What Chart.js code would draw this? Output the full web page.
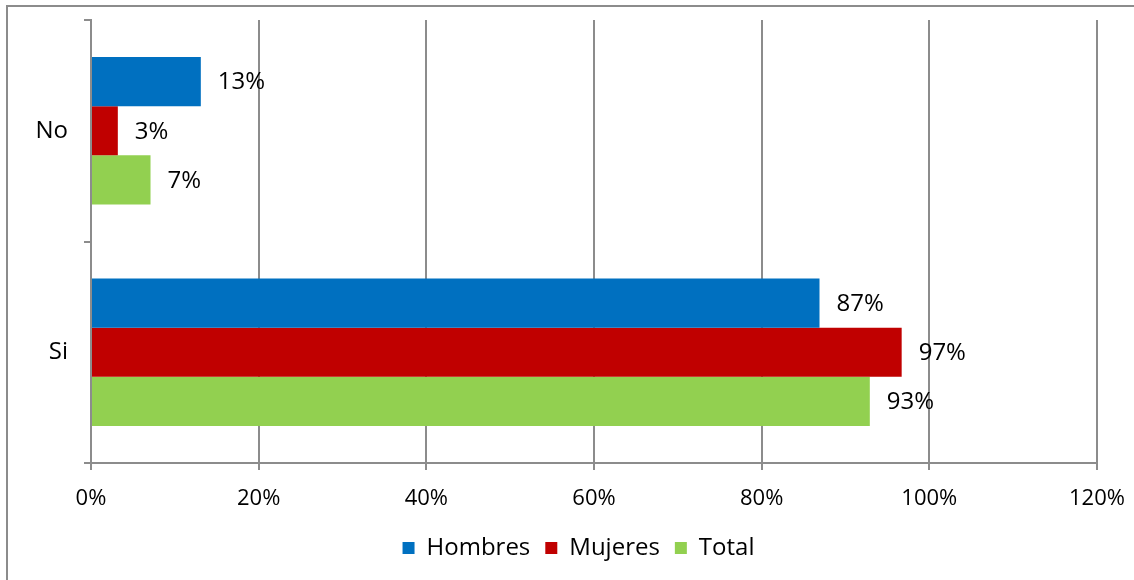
<!DOCTYPE html>
<html>
<head>
<meta charset="utf-8">
<script src="https://cdn.jsdelivr.net/npm/chart.js@4/dist/chart.umd.min.js"></script>
<style>
  html, body { margin: 0; padding: 0; background: #fff; overflow: hidden; }
  #wrap { position: relative; width: 1134px; height: 580px; }
  #frame { position: absolute; left: 6px; top: 5px; width: 1200px; height: 700px;
           border-left: 2px solid #8c8c8c; border-top: 2px solid #8c8c8c; }
  canvas { position: absolute; left: 0; top: 0; }
</style>
</head>
<body>
<div id="wrap">
  <div id="frame"></div>
  <canvas id="grafico" width="1134" height="580"></canvas>
</div>
<script>
var categorias = ["No", "Si"];
var hombres = [13.1, 86.9];
var mujeres = [3.2, 96.7];
var total = [7.1, 92.9];
var ticksX = [0, 20, 40, 60, 80, 100, 120];

var fuente = "'Open Sans', sans-serif";

// etiquetas de valor al final de cada barra
var etiquetasValor = {
    id: 'etiquetasValor',
    afterDatasetsDraw: function(chart) {
        var ctx = chart.ctx;
        ctx.save();
        ctx.font = "24px " + fuente;
        ctx.fillStyle = "#000";
        ctx.textBaseline = "middle";
        ctx.textAlign = "left";
        chart.data.datasets.forEach(function(ds, i) {
            var meta = chart.getDatasetMeta(i);
            meta.data.forEach(function(bar, j) {
                ctx.fillText(Math.round(ds.data[j]) + "%", bar.x + 17, bar.y + 1);
            });
        });
        ctx.restore();
    }
};

// la leyenda del original esta algo corrida a la derecha
var moverLeyenda = {
    id: 'moverLeyenda',
    afterLayout: function(chart) {
        chart.legend.left += 30;
        chart.legend.right += 30;
    }
};

new Chart(document.getElementById("grafico"), {
    type: 'bar',
    data: {
        labels: categorias,
        datasets: [
            { label: "Hombres", data: hombres, backgroundColor: "#0070C0" },
            { label: "Mujeres", data: mujeres, backgroundColor: "#C00000" },
            { label: "Total", data: total, backgroundColor: "#92D050" }
        ]
    },
    options: {
        indexAxis: 'y',
        responsive: false,
        animation: false,
        categoryPercentage: 0.665,
        barPercentage: 1,
        layout: { padding: { left: 0, right: 37, top: 20, bottom: 10 } },
        scales: {
            x: {
                min: 0,
                max: 120,
                afterBuildTicks: function(axis) {
                    axis.ticks = ticksX.map(function(v) { return { value: v }; });
                },
                afterFit: function(axis) {
                    axis.height = 58;
                    axis.paddingLeft = 0;
                    axis.paddingRight = 0;
                },
                ticks: {
                    callback: function(v) { return v + "%"; },
                    color: "#000",
                    padding: 16,
                    font: { family: fuente, size: 22 }
                },
                grid: { color: "#8c8c8c", lineWidth: 2, tickLength: 7 },
                border: { color: "#8c8c8c", width: 2 }
            },
            y: {
                afterFit: function(axis) {
                    axis.width = 91;
                    axis.paddingTop = 0;
                    axis.paddingBottom = 0;
                },
                ticks: {
                    color: "#000",
                    padding: 16,
                    font: { family: fuente, size: 24 }
                },
                grid: { drawOnChartArea: false, color: "#8c8c8c", lineWidth: 2, tickLength: 7 },
                border: { color: "#8c8c8c", width: 2 }
            }
        },
        plugins: {
            legend: {
                position: 'bottom',
                labels: {
                    boxWidth: 12,
                    boxHeight: 12,
                    padding: 15,
                    color: "#000",
                    font: { family: fuente, size: 24 }
                }
            },
            tooltip: { enabled: false }
        }
    },
    plugins: [etiquetasValor, moverLeyenda]
});
</script>
</body>
</html>
